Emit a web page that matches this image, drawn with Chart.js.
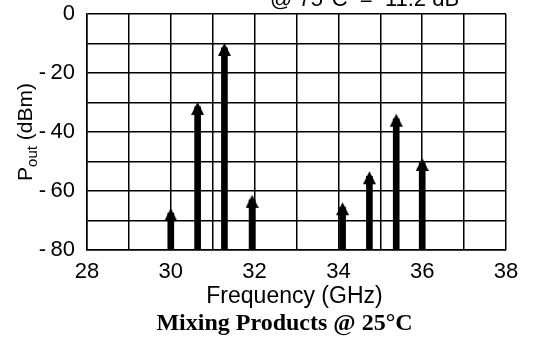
<!DOCTYPE html>
<html>
<head>
<meta charset="utf-8">
<script src="https://cdn.jsdelivr.net/npm/chart.js@4.4.1/dist/chart.umd.min.js"></script>
<style>
  html, body { margin: 0; padding: 0; background: #fff; }
  #wrap { width: 547px; height: 339px; }
</style>
</head>
<body>
<div id="wrap"><canvas id="chart" width="547" height="339"></canvas></div>
<script>
// Mixing products: frequency (GHz) and output power (dBm) at arrow points
const freqs = [30.0, 30.64, 31.28, 31.94, 34.1, 34.74, 35.38, 36.0];
const powers = [-67.5, -31.5, -11.5, -63, -65.5, -55, -35.5, -50.5];
const floorLevel = -80;

// Axis ticks that carry a label
const xTickLabels = [28, 30, 32, 34, 36, 38];
const yTickLabels = [0, -20, -40, -60, -80];

const SANS = '"Liberation Sans", Arial, sans-serif';
const SERIF = '"Liberation Serif", "Times New Roman", serif';

// arrow head: tip sits 5px above the point centre, base below
function makeArrowHead() {
    const w = 13, h = 34;
    const c = document.createElement('canvas');
    c.width = w;
    c.height = h;
    const g = c.getContext('2d');
    g.fillStyle = '#000';
    g.beginPath();
    g.moveTo(w / 2, h / 2 - 5);
    g.lineTo(w, h / 2 + 8);
    g.lineTo(0, h / 2 + 8);
    g.closePath();
    g.fill();
    return c;
}

const arrowHead = makeArrowHead();

// extra texts: axis titles, caption and the clipped label above the plot
const textPlugin = {
    id: 'texts',
    afterDraw(chart) {
        const { ctx, chartArea } = chart;
        const cx = (chartArea.left + chartArea.right) / 2;
        ctx.save();
        ctx.fillStyle = '#000';
        ctx.textBaseline = 'alphabetic';

        // text cut off by the top edge
        ctx.font = '22px ' + SANS;
        ctx.textAlign = 'left';
        ctx.fillText('@ 75°C  =  11.2 dB', 270, 6);

        // x axis title
        ctx.textAlign = 'center';
        ctx.font = '23px ' + SANS;
        ctx.fillText('Frequency (GHz)', cx - 2, 303);

        // caption
        ctx.font = 'bold 24px ' + SERIF;
        ctx.fillText('Mixing Products @ 25°C', cx - 12, 330);

        // y axis title with subscript
        const cy = (chartArea.top + chartArea.bottom) / 2;
        const big = '21px ' + SANS, small = '15px ' + SANS;
        ctx.font = big;
        const wP = ctx.measureText('P').width;
        const wRest = ctx.measureText(' (dBm)').width;
        ctx.font = small;
        const wSub = ctx.measureText('out').width;
        const total = wP + wSub + wRest;
        ctx.translate(32, cy);
        ctx.rotate(-Math.PI / 2);
        ctx.textAlign = 'left';
        let x = -total / 2;
        ctx.font = big;
        ctx.fillText('P', x, 0);
        x += wP;
        ctx.font = small;
        ctx.fillText('out', x, 5);
        x += wSub;
        ctx.font = big;
        ctx.fillText(' (dBm)', x, 0);
        ctx.restore();
    }
};

const ctx = document.getElementById('chart').getContext('2d');

new Chart(ctx, {
    type: 'bar',
    data: {
        datasets: [
            {
                type: 'bar',
                data: freqs.map((f, i) => ({ x: f, y: [floorLevel, powers[i]] })),
                backgroundColor: '#000',
                borderWidth: 0,
                barThickness: 6,
                grouped: false
            },
            {
                type: 'line',
                data: freqs.map((f, i) => ({ x: f, y: powers[i] })),
                showLine: false,
                pointStyle: arrowHead,
                pointRadius: 7
            }
        ]
    },
    options: {
        responsive: false,
        animation: false,
        devicePixelRatio: 1,
        layout: {
            padding: { left: 0, right: 41, top: 14, bottom: 0 }
        },
        plugins: {
            legend: { display: false },
            title: { display: false },
            tooltip: { enabled: false }
        },
        scales: {
            x: {
                type: 'linear',
                min: 28,
                max: 38,
                offset: false,
                grid: { color: '#000', lineWidth: 1.5, drawTicks: false, offset: false },
                border: { color: '#000', width: 1.5 },
                ticks: {
                    stepSize: 1,
                    autoSkip: false,
                    maxRotation: 0,
                    padding: 9,
                    color: '#000',
                    font: { family: SANS, size: 22 },
                    callback: (v) => xTickLabels.includes(v) ? String(v) : ''
                },
                afterFit(scale) {
                    scale.height = 89;
                    scale.paddingLeft = 0;
                    scale.paddingRight = 0;
                }
            },
            y: {
                min: -80,
                max: 0,
                grid: { color: '#000', lineWidth: 1.5, drawTicks: false },
                border: { color: '#000', width: 1.5 },
                ticks: {
                    stepSize: 10,
                    autoSkip: false,
                    padding: 12,
                    color: '#000',
                    font: { family: SANS, size: 22 },
                    callback: (v) => {
                        if (!yTickLabels.includes(v)) return '';
                        return v === 0 ? '0' : '-\u2009' + Math.abs(v);
                    }
                },
                afterFit(scale) {
                    scale.width = 87;
                    scale.paddingTop = 0;
                    scale.paddingBottom = 0;
                }
            }
        }
    },
    plugins: [textPlugin]
});
</script>
</body>
</html>
